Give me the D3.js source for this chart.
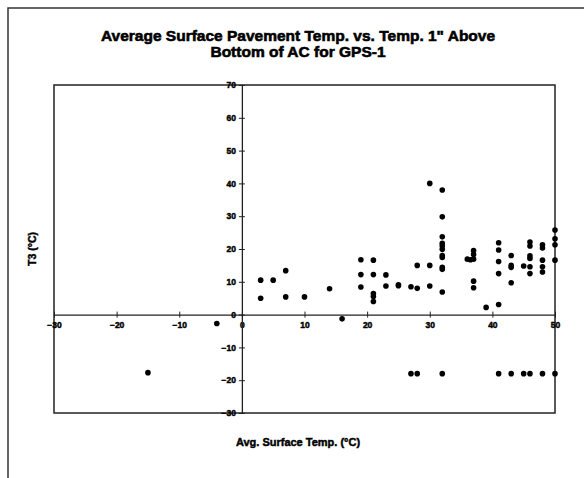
<!DOCTYPE html>
<html><head><meta charset="utf-8">
<script src="https://cdn.jsdelivr.net/npm/d3@7"></script>
<style>
html,body{margin:0;padding:0;background:#fff;}
svg{display:block;}
text{font-family:"Liberation Sans",Arial,sans-serif;font-weight:bold;fill:#000;}
</style></head>
<body><svg id="c" width="584" height="478"></svg>
<script>
const titleLines = ["Average Surface Pavement Temp. vs. Temp. 1\" Above", "Bottom of AC for GPS-1"];
const xLabel = "Avg. Surface Temp. (\u00B0C)";
const yLabel = "T3 (\u00B0C)";
const xTicks = [-30, -20, -10, 0, 10, 20, 30, 40, 50];
const yTicks = [-30, -20, -10, 0, 10, 20, 30, 40, 50, 60, 70];
const xVals = [3,3,5,7,7,10,14,16,
  19,19,19,21,21,21,21,21,
  23,23,25,25,27,28,28,
  30,30,30,
  32,32,32,32,32,32,32,32,32,32,32,
  36,36.5,37,37,37,37,37,
  39,41,41,41,41,41,
  43,43,43,43,45,
  46,46,46,46,46,46,
  48,48,48,48,48,
  50,50,50,50,
  -4,-15,
  27,28,32,41,43,45,46,48,50];
const yVals = [10.5,5,10.5,13.4,5.4,5.4,7.9,-1.3,
  16.7,12.2,8.4,16.6,12.2,6.4,5.5,4,
  12.1,8.7,9.1,8.8,8.5,8,15,
  40,15,8.7,
  38,29.8,23.7,21.7,20.9,19.9,18,17.4,14.4,13.8,6.9,
  16.9,16.7,19.5,18.3,16.9,10.2,8.2,
  2.2,21.9,19.7,16.2,12.5,3.1,
  18,15,14.4,9.7,14.8,
  22.1,20.9,17.9,17.1,14.6,12.5,
  21.3,20.3,16.6,14.6,13,
  25.8,23.1,21.3,16.6,
  -2.7,-17.7,
  -18,-18,-18,-18,-18,-18,-18,-18,-18];

const svg = d3.select("#c");
const L = 54, R = 555, T = 85, B = 413;
const x = d3.scaleLinear().domain([-30, 50]).range([L, R]);
const y = d3.scaleLinear().domain([-30, 70]).range([B, T]);
const FONT = "'Liberation Sans',Arial,sans-serif";

// outer frame (top and left edges)
svg.append("path").attr("d", `M8,478 L8,8 L584,8`).attr("fill","none").attr("stroke","#333").attr("stroke-width",1.5);

// title
titleLines.forEach((t, i) => {
  svg.append("text").attr("x", 298).attr("y", 41 + i * 16).attr("text-anchor","middle")
    .style("font-size","15.5px").style("stroke","#000").style("stroke-width","0.6").text(t);
});

// plot frame
svg.append("rect").attr("x", L).attr("y", T).attr("width", R-L).attr("height", B-T)
  .attr("fill","none").attr("stroke","#222").attr("stroke-width",1.5);

function styleTicks(g) {
  g.selectAll(".tick text").style("font-size","8.5px").style("font-family",FONT)
    .style("font-weight","bold").style("stroke","#000").style("stroke-width","0.45");
}

// x axis through y=0
const xAxis = d3.axisBottom(x).tickValues(xTicks).tickSize(0).tickPadding(7).tickFormat(d3.format("d"));
const gx = svg.append("g").attr("transform", `translate(0,${y(0)})`).call(xAxis);
gx.select(".domain").attr("stroke","#222").attr("stroke-width",1.3);
gx.selectAll(".tick line").remove();
gx.selectAll(".tick").append("line").attr("y1",-3).attr("y2",3).attr("stroke","#222").attr("stroke-width",1);
styleTicks(gx);

// y axis through x=0
const yAxis = d3.axisLeft(y).tickValues(yTicks).tickSize(0).tickPadding(6).tickFormat(d3.format("d"));
const gy = svg.append("g").attr("transform", `translate(${x(0)},0)`).call(yAxis);
gy.select(".domain").attr("stroke","#222").attr("stroke-width",1.3);
gy.selectAll(".tick line").remove();
gy.selectAll(".tick").append("line").attr("x1",-3).attr("x2",3).attr("stroke","#222").attr("stroke-width",1);
styleTicks(gy);

// points
svg.append("g").selectAll("circle").data(xVals.map((v,i)=>[v,yVals[i]])).join("circle")
  .attr("cx", d=>x(d[0])).attr("cy", d=>y(d[1])).attr("r", 2.8).attr("fill","#000");

// axis titles
svg.append("text").attr("x", 298).attr("y", 446).attr("text-anchor","middle")
  .style("font-size","11px").style("stroke","#000").style("stroke-width","0.45").text(xLabel);
svg.append("text").attr("transform", "translate(36,249) rotate(-90)").attr("text-anchor","middle")
  .style("font-size","10.5px").style("stroke","#000").style("stroke-width","0.45").text(yLabel);
</script>
</body></html>
